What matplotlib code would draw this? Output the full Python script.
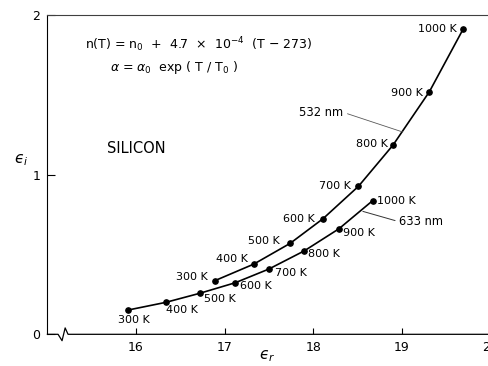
import numpy as np
import matplotlib
matplotlib.use("Agg")
import matplotlib.pyplot as plt

plt.rcParams['font.family'] = ['DejaVu Sans']
plt.rcParams['mathtext.fontset'] = 'dejavusans'

# temperatures for the labelled points
temps = [300, 400, 500, 600, 700, 800, 900, 1000]

# 532 nm curve (eps_r, eps_i)
er_532 = [16.89, 17.33, 17.74, 18.11, 18.51, 18.90, 19.31, 19.69]
ei_532 = [0.336, 0.440, 0.570, 0.724, 0.927, 1.185, 1.519, 1.910]

# 633 nm curve
er_633 = [15.91, 16.335, 16.72, 17.12, 17.50, 17.90, 18.29, 18.67]
ei_633 = [0.152, 0.200, 0.257, 0.323, 0.409, 0.523, 0.661, 0.837]

xticks = [16, 17, 18, 19, 20]
yticks = [0, 1, 2]

# label offsets in pixels (layout only)
off_532 = [(-7, 4), (-6, 5), (-10, 2), (-8, 0), (-8, 0), (-5, 1), (-6, -1), (-6, 0)]
off_633 = [(-10, -10), (0, -8), (4, -6), (5, -3), (6, -4), (4, -3), (4, -4), (4, 0)]

fig = plt.figure(figsize=(4.89, 3.66), dpi=100)
ax = fig.add_axes([0.097, 0.0866, 0.906, 0.8724])
ax.set_xlim(15, 20)
ax.set_ylim(0, 2)

ax.plot(er_532, ei_532, color='black', lw=1.2, marker='o', ms=3.8)
ax.plot(er_633, ei_633, color='black', lw=1.2, marker='o', ms=3.8)

for t, x, y, (dx, dy) in zip(temps, er_532, ei_532, off_532):
    ax.annotate(f'{t} K', (x, y), xytext=(dx, dy), textcoords='offset pixels',
                ha='right', va='center', fontsize=8)
for t, x, y, (dx, dy) in zip(temps, er_633, ei_633, off_633):
    ax.annotate(f'{t} K', (x, y), xytext=(dx, dy), textcoords='offset pixels',
                ha='left', va='center', fontsize=8)

# wavelength labels with leader lines
ax.annotate('532 nm', xy=(19.01, 1.267), xytext=(18.34, 1.39),
            ha='right', va='center', fontsize=8.3,
            arrowprops=dict(arrowstyle='-', color='0.35', lw=0.6,
                            shrinkA=1, shrinkB=0, relpos=(1, 0.5)))
ax.annotate('633 nm', xy=(18.56, 0.77), xytext=(18.97, 0.705),
            ha='left', va='center', fontsize=8.3,
            arrowprops=dict(arrowstyle='-', color='0.2', lw=0.7,
                            shrinkA=1, shrinkB=0, relpos=(0, 0.5)))

ax.text(0.085, 0.906, r'n(T) = n$_0$  +  4.7  $\times$  10$^{-4}$  (T $-$ 273)',
        transform=ax.transAxes, fontsize=9, va='center')
ax.text(0.141, 0.837, r'$\alpha$ = $\alpha_0$  exp ( T / T$_0$ )',
        transform=ax.transAxes, fontsize=9, va='center')
ax.text(0.135, 0.583, 'SILICON', transform=ax.transAxes, fontsize=10.5, va='center')

ax.set_xticks(xticks)
ax.set_yticks(yticks)
ax.set_xticklabels([str(v) for v in xticks])
ax.tick_params(direction='in', labelsize=9, pad=5)
ax.tick_params(axis='x', length=4)
ax.tick_params(axis='y', length=6)

ax.set_xlabel('$\u03f5_r$', fontsize=11)
ax.xaxis.set_label_coords(0.495, -0.045)
ax.set_ylabel('$\u03f5_i$', fontsize=11, rotation=0)
ax.yaxis.set_label_coords(-0.06, 0.52)

ax.spines['right'].set_visible(False)
ax.spines['bottom'].set_visible(False)
ax.spines['top'].set_color('0.25')

# bottom axis with break mark
ax.plot([0, 0.024, 0.033, 0.040, 0.0465, 1.0], [0, 0, -0.02, 0.02, 0, 0],
        transform=ax.transAxes, color='black', lw=0.9, clip_on=False)

fig.savefig('out.png', dpi=100)
